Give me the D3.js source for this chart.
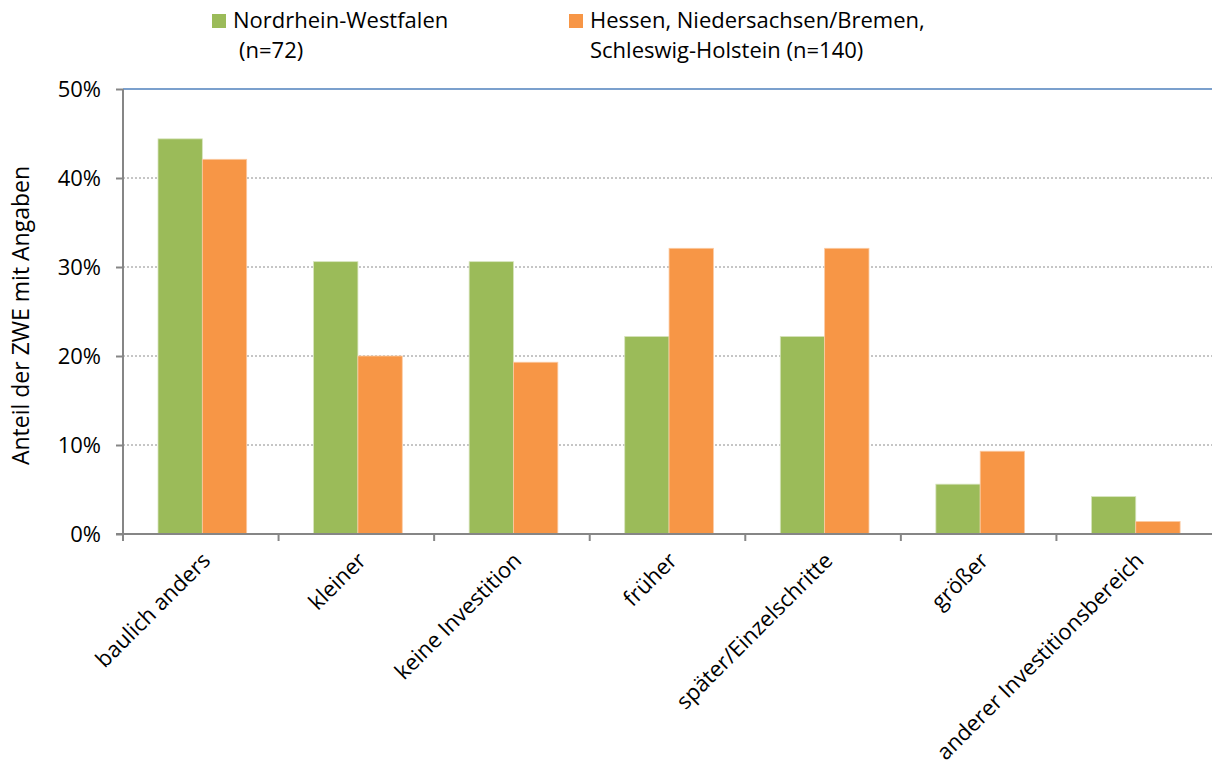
<!DOCTYPE html>
<html>
<head>
<meta charset="utf-8">
<script src="https://cdn.jsdelivr.net/npm/d3@7"></script>
<style>
body { margin: 0; background: #fff; }
text { font-family: "Open Sans", "Noto Sans", sans-serif; fill: #000; }
</style>
</head>
<body>
<script>
const svgWidth = 1215
const svgHeight = 767

const margin = { top: 89, right: 3, bottom: 233, left: 123 }
const chartWidth = svgWidth - margin.left - margin.right
const chartHeight = svgHeight - margin.top - margin.bottom

const categories = ["baulich anders", "kleiner", "keine Investition", "früher", "später/Einzelschritte", "größer", "anderer Investitionsbereich"]
const seriesNames = ["Nordrhein-Westfalen", "Hessen, Niedersachsen/Bremen, Schleswig-Holstein"]
const nrw = [44.4, 30.6, 30.6, 22.2, 22.2, 5.6, 4.2]
const hns = [42.1, 20.0, 19.3, 32.1, 32.1, 9.3, 1.4]
const yTicks = [0, 10, 20, 30, 40, 50]
const colors = ["#9bbb59", "#f79646"]

const fontSize = "22px"

const svg = d3.select("body").append("svg")
    .attr("width", svgWidth)
    .attr("height", svgHeight)

const chartG = svg.append("g")
    .attr("transform", `translate(${margin.left}, ${margin.top})`)

const x = d3.scaleBand()
    .domain(categories)
    .range([0, chartWidth])
    .paddingInner(0)
    .paddingOuter(0)

const x1 = d3.scaleBand()
    .domain([0, 1])
    .range([x.bandwidth() * 0.225, x.bandwidth() * 0.795])

const y = d3.scaleLinear()
    .domain([0, 50])
    .range([chartHeight, 0])

// gridlines
chartG.append("g")
    .selectAll("line")
    .data(yTicks.filter(d => d > 0 && d < 50))
    .enter()
    .append("line")
    .attr("x1", 0)
    .attr("x2", chartWidth)
    .attr("y1", d => y(d))
    .attr("y2", d => y(d))
    .attr("stroke", "#8c8c8c")
    .attr("stroke-dasharray", "2,2")

chartG.append("line")
    .attr("x1", 0)
    .attr("x2", chartWidth)
    .attr("y1", y(50))
    .attr("y2", y(50))
    .attr("stroke", "#4f81bd")
    .attr("stroke-width", 1.5)

// bars
const groups = chartG.selectAll(".grp")
    .data(categories.map((c, i) => ({ c, vals: [nrw[i], hns[i]] })))
    .enter()
    .append("g")
    .attr("transform", d => `translate(${x(d.c)}, 0)`)

groups.selectAll("rect")
    .data(d => d.vals.map((v, k) => ({ v, k })))
    .enter()
    .append("rect")
    .attr("x", d => x1(d.k))
    .attr("width", x1.bandwidth())
    .attr("y", d => y(d.v))
    .attr("height", d => chartHeight - y(d.v))
    .attr("fill", d => colors[d.k])
    .attr("stroke", d => d.k === 0 ? "#d7e4bd" : "#fbcaa2")
    .attr("stroke-width", 0.8)

// y axis
const yAxis = d3.axisLeft(y)
    .tickValues(yTicks)
    .tickFormat(d => d + "%")
    .tickSize(7)
    .tickPadding(15)

const yG = chartG.append("g").call(yAxis)
yG.select(".domain").attr("stroke", "#868686").attr("stroke-width", 2).attr("d", `M0,${chartHeight}V0`)
yG.selectAll(".tick line").attr("stroke", "#868686").attr("stroke-width", 2)
yG.selectAll(".tick text").style("font-size", fontSize).attr("fill", "#000")

// x axis
const xG = chartG.append("g")
    .attr("transform", `translate(0, ${chartHeight})`)

xG.append("line")
    .attr("x1", -7)
    .attr("x2", chartWidth)
    .attr("stroke", "#868686")
    .attr("stroke-width", 2)

xG.selectAll(".xt")
    .data(categories)
    .enter()
    .append("line")
    .attr("x1", d => x(d))
    .attr("x2", d => x(d))
    .attr("y1", 0)
    .attr("y2", 7)
    .attr("stroke", "#868686")
    .attr("stroke-width", 2)

xG.selectAll(".xl")
    .data(categories)
    .enter()
    .append("text")
    .attr("transform", d => `translate(${x(d) + x.bandwidth() / 2}, 17) rotate(-45)`)
    .attr("text-anchor", "end")
    .attr("dy", "0.7em")
    .style("font-size", fontSize)
    .text(d => d)

// y label
svg.append("text")
    .attr("transform", `translate(29, ${margin.top + chartHeight / 2 + 4}) rotate(-90)`)
    .attr("text-anchor", "middle")
    .style("font-size", "23px")
    .text("Anteil der ZWE mit Angaben")

// legend
const legend = svg.append("g")
const legendItems = [
    { x: 212, lines: ["Nordrhein-Westfalen", "(n=72)"], indent: 6 },
    { x: 569, lines: ["Hessen, Niedersachsen/Bremen,", "Schleswig-Holstein (n=140)"], indent: 0 }
]
legendItems.forEach((it, i) => {
    legend.append("rect")
        .attr("x", it.x)
        .attr("y", 14)
        .attr("width", 14)
        .attr("height", 14)
        .attr("fill", colors[i])
    legend.append("text")
        .attr("x", it.x + 21)
        .attr("y", 28)
        .style("font-size", fontSize)
        .text(it.lines[0])
    legend.append("text")
        .attr("x", it.x + 21 + it.indent)
        .attr("y", 58)
        .style("font-size", fontSize)
        .text(it.lines[1])
})
</script>
</body>
</html>
